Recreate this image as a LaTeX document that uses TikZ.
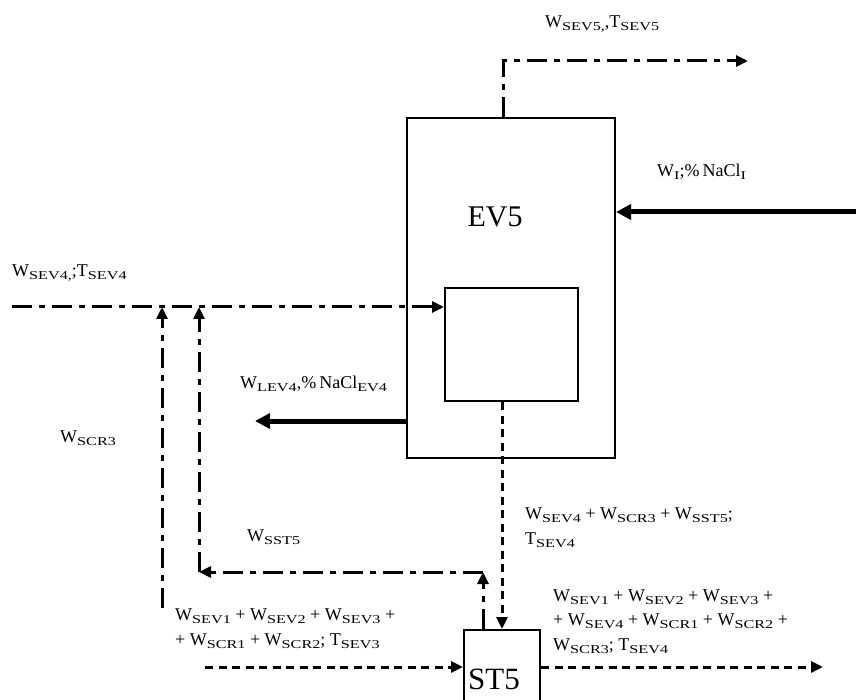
\documentclass[tikz,border=0pt]{standalone}
\usepackage{fontspec}
\setmainfont{Liberation Serif}
\newfontfamily\subfont[FakeStretch=1.35]{Liberation Serif}
\usetikzlibrary{arrows.meta,calc}
% chi so duoi kieu Word
\newcommand{\subs}[1]{\raisebox{-3pt}{\fontsize{12}{12}\subfont #1}}
\newcommand{\Wf}[1]{W\subs{#1}}
\newcommand{\Tf}[1]{T\subs{#1}}
\tikzset{
  lbl/.style={font=\fontsize{18}{24.5}\selectfont, inner sep=0pt, anchor=base west, align=left},
  tank/.style={draw, line width=2pt, inner sep=0pt},
  dashdot/.style={line width=3pt, dash pattern=on 20pt off 7pt on 6pt off 7pt, -{Triangle[length=12pt,width=11pt]}},
  dots/.style={line width=3pt, dash pattern=on 8pt off 5.5pt, -{Triangle[length=12pt,width=11pt]}},
  heavy/.style={line width=5pt, -{Triangle[length=15pt,width=15pt]}}
}
\begin{document}
\begin{tikzpicture}[x=1pt, y=-1pt]
	% khung hinh
	\useasboundingbox (0,0) rectangle (856,700);
	\clip (0,0) rectangle (856,700);
	
	% thiet bi bay hoi EV5 va buong ben trong
	\node[tank, minimum width=208pt, minimum height=340pt] (ev5) at (511,288) {};
	\node[font=\fontsize{30}{30}\selectfont, inner sep=0pt] (ev5lbl) at (495,217) {EV5};
	\node[tank, minimum width=133pt, minimum height=113pt] (inner) at (511.5,344.5) {};
	
	% bo tach ST5
	\node[tank, minimum width=76pt, minimum height=140pt, anchor=north] (st5) at (502,629) {};
	\node[font=\fontsize{31}{31}\selectfont, inner sep=0pt] (st5lbl) at (494,679) {ST5};
	
	% diem dau mut cua cac dong
	\coordinate (sev5) at (748,61);
	\coordinate (wi) at (856,212);
	\coordinate (sev4) at (12,307);
	\coordinate (lev4) at (255,421);
	\coordinate (scr3) at (162,608);
	\coordinate (xdrop) at (502,0);
	\coordinate (xret) at (483,0);
	\coordinate (ret) at (483,572);
	\coordinate (retl) at (199,572);
	\coordinate (inlow) at (205,667);
	\coordinate (outlow) at (823,667);
	
	% hoi thu ra phia tren
	\draw[dashdot] ([xshift=-8pt]ev5.north) |- (sev5);
	% dung dich vao va ra
	\draw[heavy] (wi) -- (wi -| ev5.east);
	\draw[heavy] (lev4 -| ev5.west) -- (lev4);
	% hoi dot tu EV4
	\draw[dashdot] (sev4) -- (sev4 -| inner.west);
	\draw[dashdot] (scr3) -- (scr3 |- sev4);
	% nuoc ngung xuong ST5
	\draw[dots] (inner.south -| xdrop) -- (st5.north -| xdrop);
	% hoi tu ST5 quay ve
	\draw[dashdot] (st5.north -| xret) -- (ret);
	\draw[dashdot] (ret) -- (retl);
	\draw[dashdot] (retl) -- (retl |- sev4);
	% dong qua ST5
	\draw[dots] (inlow) -- (inlow -| st5.west);
	\draw[dots] (st5.east |- inlow) -- (outlow);
	
	% nhan (nhieu dong: toa do la dong cuoi)
	\node[lbl] (l1) at (545,28) {\Wf{SEV5,},\Tf{SEV5}};
	\node[lbl] (l2) at (657,177) {\Wf{I};\%\,NaCl\subs{I}};
	\node[lbl] (l3) at (12,277) {\Wf{SEV4,};\Tf{SEV4}};
	\node[lbl] (l4) at (240,388) {\Wf{LEV4},\%\,NaCl\subs{EV4}};
	\node[lbl] (l5) at (60,442) {\Wf{SCR3}};
	\node[lbl] (l6) at (247,541) {\Wf{SST5}};
	\node[lbl] (l7) at (525,544) {\Wf{SEV4} + \Wf{SCR3} + \Wf{SST5};\\\Tf{SEV4}};
	\node[lbl] (l8) at (175,645) {\Wf{SEV1} + \Wf{SEV2} + \Wf{SEV3} +\\+ \Wf{SCR1} + \Wf{SCR2}; \Tf{SEV3}};
	\node[lbl] (l9) at (553,650) {\Wf{SEV1} + \Wf{SEV2} + \Wf{SEV3} +\\+ \Wf{SEV4} + \Wf{SCR1} + \Wf{SCR2} +\\\Wf{SCR3}; \Tf{SEV4}};
\end{tikzpicture}
\end{document}
